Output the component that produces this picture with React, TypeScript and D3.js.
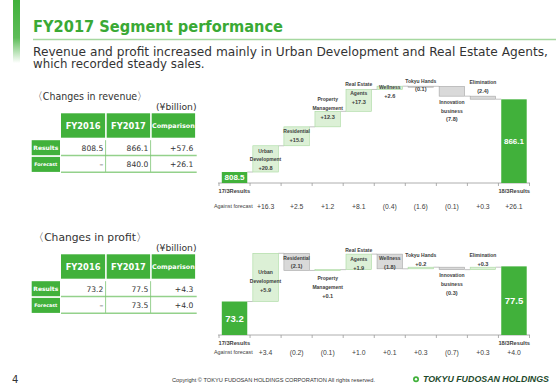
import React from "react";
import * as d3 from "d3";

// ---- data ----
const segments = [
  "Urban\nDevelopment",
  "Residential",
  "Property\nManagement",
  "Real Estate\nAgents",
  "Wellness",
  "Tokyu Hands",
  "Innovation\nbusiness",
  "Elimination",
];

const revStart = 808.5;
const revEnd = 866.1;
const revDeltas = [20.8, 15.0, 12.3, 17.3, 2.6, -0.1, -7.8, -2.4];
const revVsForecast = ["+16.3", "+2.5", "+1.2", "+8.1", "(0.4)", "(1.6)", "(0.1)", "+0.3", "+26.1"];

const profStart = 73.2;
const profEnd = 77.5;
const profDeltas = [5.9, -2.1, 0.1, 1.9, -1.8, 0.2, -0.3, 0.3];
const profVsForecast = ["+3.4", "(0.2)", "(0.1)", "+1.0", "+0.1", "+0.3", "(0.7)", "+0.3", "+4.0"];

const tableCols = ["FY2016", "FY2017", "Comparison"];
const rowLabels = ["Results", "Forecast"];
const revTable = [
  ["808.5", "866.1", "+57.6"],
  ["\u2013", "840.0", "+26.1"],
];
const profTable = [
  ["73.2", "77.5", "+4.3"],
  ["\u2013", "73.5", "+4.0"],
];

const GREEN = "#41b13b";
const TEXT = "#333333";
const SANS = "DejaVu Sans, Verdana, sans-serif";
const ARIAL = "Liberation Sans, Arial, sans-serif";

const fmtDelta = (v: number) => (v >= 0 ? `+${v.toFixed(1)}` : `(${Math.abs(v).toFixed(1)})`);

type WfProps = {
  start: number;
  end: number;
  deltas: number[];
  vsForecast: string[];
  floor: number;
  baseY: number;
  topY: number;
  labelDy: number[];
  resultsY: number;
  forecastY: number;
  endFont: number;
};

const Waterfall = ({ start, end, deltas, vsForecast, floor, baseY, topY, labelDy, resultsY, forecastY, endFont }: WfProps) => {
  const cats = d3.range(deltas.length + 2).map(String);
  const x = d3.scaleBand().domain(cats).range([219, 529.5]).padding(0);
  const bw = x.bandwidth() * 0.82;
  const off = x.bandwidth() * 0.09;

  const running: number[] = [start];
  deltas.forEach((d) => running.push(running[running.length - 1] + d));
  const maxV = d3.max(running) as number;
  const y = d3.scaleLinear().domain([floor, maxV]).range([baseY, topY]);

  const boxes = deltas.map((d, i) => {
    const a = running[i];
    const b = running[i + 1];
    const top = y(Math.max(a, b));
    const h = Math.max(Math.abs(y(a) - y(b)), 1);
    return { i: i + 1, top, h, d };
  });

  const ticks = cats.map((c) => x(c) as number).concat([x.range()[1]]);
  const lastX = x(String(cats.length - 1)) as number;

  return (
    <g>
      {/* axis */}
      <line x1={218} x2={530} y1={baseY} y2={baseY} stroke="#9a9a9a" strokeWidth={0.8} />
      {ticks.map((t, k) => (
        <line key={k} x1={t} x2={t} y1={baseY} y2={baseY + 3} stroke="#9a9a9a" strokeWidth={0.8} />
      ))}
      {/* connectors */}
      {running.map((v, i) => {
        const x1 = (x(String(i)) as number) + off + bw;
        const x2 = (x(String(i + 1)) as number) + off;
        return <line key={i} x1={x1} x2={x2} y1={y(v)} y2={y(v)} stroke="#9a9a9a" strokeWidth={0.6} />;
      })}
      {/* start & end bars */}
      <rect x={(x("0") as number) + off} y={y(start)} width={bw} height={baseY - y(start)} fill={GREEN} />
      <rect x={lastX + off} y={y(end)} width={bw} height={baseY - y(end)} fill={GREEN} />
      <text x={(x("0") as number) + x.bandwidth() / 2} y={(y(start) + baseY) / 2} textAnchor="middle" dominantBaseline="central" fill="#fff" fontFamily={ARIAL} fontWeight="bold" fontSize={endFont}>
        {start.toFixed(1)}
      </text>
      <text x={lastX + x.bandwidth() / 2} y={(y(end) + baseY) / 2} textAnchor="middle" dominantBaseline="central" fill="#fff" fontFamily={ARIAL} fontWeight="bold" fontSize={endFont}>
        {end.toFixed(1)}
      </text>
      {/* segment boxes */}
      {boxes.map((b) => (
        <rect
          key={b.i}
          x={(x(String(b.i)) as number) + off}
          y={b.top}
          width={bw}
          height={b.h}
          fill={b.d >= 0 ? "#dcf0d6" : "#d9d9d9"}
          stroke={b.d >= 0 ? "#a8d99f" : "#a6a6a6"}
          strokeWidth={0.6}
        />
      ))}
      {boxes.map((b, k) => {
        const lines = segments[k].split("\n").concat([fmtDelta(b.d)]);
        const cx = (x(String(b.i)) as number) + x.bandwidth() / 2;
        return (
          <g key={k}>
            {lines.map((ln, j) => (
              <text
                key={j}
                x={cx}
                y={b.top + labelDy[k] + j * 8.7}
                textAnchor="middle"
                dominantBaseline="central"
                fill="#404040"
                fontFamily={ARIAL}
                fontWeight="bold"
                fontSize={j === lines.length - 1 ? 5.6 : 5}
              >
                {ln}
              </text>
            ))}
          </g>
        );
      })}
      {/* category labels */}
      <text x={218.5} y={resultsY} dominantBaseline="central" fill="#404040" fontFamily={ARIAL} fontWeight="bold" fontSize={5.7}>
        17/3Results
      </text>
      <text x={530} y={resultsY} textAnchor="end" dominantBaseline="central" fill="#404040" fontFamily={ARIAL} fontWeight="bold" fontSize={5.7}>
        18/3Results
      </text>
      {/* against forecast row */}
      <text x={214} y={forecastY} dominantBaseline="central" fill="#404040" fontFamily={ARIAL} fontSize={5.4}>
        Against forecast
      </text>
      {vsForecast.map((v, k) => (
        <text key={k} x={(x(String(k + 1)) as number) + x.bandwidth() / 2} y={forecastY} textAnchor="middle" dominantBaseline="central" fill="#404040" fontFamily={ARIAL} fontSize={6.8}>
          {v}
        </text>
      ))}
    </g>
  );
};

type TableProps = { top: number; rows: string[][]; heading: string };

const ValueTable = ({ top, rows, heading }: TableProps) => {
  const colX = [61, 106.7, 151.7, 196.7];
  const headH = 24.4;
  const rowTop = [top + headH + 2.5, top + headH + 19.2];
  const rowH = 15;
  return (
    <g>
      <text x={33} y={top - 13} fill={TEXT} fontFamily={SANS} fontSize={10.6} textLength={114} lengthAdjust="spacingAndGlyphs">
        {"\u3008" + heading + "\u3009"}
      </text>
      <text x={196.5} y={top - 3} textAnchor="end" fill={TEXT} fontFamily={SANS} fontSize={9.2}>
        (¥billion)
      </text>
      {tableCols.map((c, k) => (
        <g key={c}>
          <rect x={colX[k]} y={top} width={colX[k + 1] - colX[k] - 1.6} height={headH} fill={GREEN} />
          <text
            x={(colX[k] + colX[k + 1] - 1.6) / 2}
            y={top + headH / 2}
            textAnchor="middle"
            dominantBaseline="central"
            fill="#fff"
            fontFamily={SANS}
            fontWeight="bold"
            fontSize={k === 2 ? 6.4 : 8.3}
          >
            {c}
          </text>
        </g>
      ))}
      {rowLabels.map((r, k) => (
        <g key={r}>
          <rect x={31.7} y={rowTop[k]} width={28.3} height={rowH} fill={GREEN} />
          <text x={45.8} y={rowTop[k] + rowH / 2} textAnchor="middle" dominantBaseline="central" fill="#fff" fontFamily={SANS} fontWeight="bold" fontSize={k === 0 ? 6 : 4.8}>
            {r}
          </text>
          <line x1={61} x2={196.7} y1={rowTop[k] + rowH + 0.3} y2={rowTop[k] + rowH + 0.3} stroke="#94d18b" strokeWidth={1.4} />
          {rows[k].map((v, j) => (
            <text key={j} x={colX[j + 1] - 3.4} y={rowTop[k] + rowH / 2 + 0.5} textAnchor="end" dominantBaseline="central" fill={TEXT} fontFamily={SANS} fontSize={7.6}>
              {v}
            </text>
          ))}
        </g>
      ))}
      {[105.6, 150.6].map((vx) => (
        <line key={vx} x1={vx} x2={vx} y1={rowTop[0]} y2={rowTop[1] + rowH} stroke="#7cc473" strokeWidth={0.8} />
      ))}
    </g>
  );
};

export default function App() {
  return (
    <svg width={560} height={388} viewBox="0 0 560 388" style={{ position: "absolute", left: 0, top: 0, background: "#fff" }}>
      <defs>
        <linearGradient id="sideBar" x1="0" y1="0" x2="0" y2="1">
          <stop offset="0" stopColor={GREEN} />
          <stop offset="0.6" stopColor={GREEN} stopOpacity={0.85} />
          <stop offset="1" stopColor={GREEN} stopOpacity={0} />
        </linearGradient>
      </defs>
      <rect x={0} y={0} width={560} height={388} fill="#fff" />
      <rect x={13} y={0} width={7} height={63} fill="url(#sideBar)" />
      <text x={33} y={32.3} fill="#3aa935" fontFamily={SANS} fontWeight="bold" fontSize={16.5} textLength={250} lengthAdjust="spacingAndGlyphs">
        FY2017 Segment performance
      </text>
      <line x1={33} x2={556} y1={39.5} y2={39.5} stroke="#a6d8a0" strokeWidth={1.6} />
      <text x={33} y={55.8} fill={TEXT} fontFamily={SANS} fontSize={11.8} textLength={515} lengthAdjust="spacingAndGlyphs">
        Revenue and profit increased mainly in Urban Development and Real Estate Agents,
      </text>
      <text x={33} y={68.3} fill={TEXT} fontFamily={SANS} fontSize={11.8}>
        which recorded steady sales.
      </text>

      <ValueTable top={113.3} rows={revTable} heading="Changes in revenue" />
      <ValueTable top={254.3} rows={profTable} heading="Changes in profit" />

      <Waterfall
        start={revStart}
        end={revEnd}
        deltas={revDeltas}
        vsForecast={revVsForecast}
        floor={799.8}
        baseY={183}
        topY={86.2}
        labelDy={[5, 4, -12, -5, 1, -5.5, 15.7, -14.3]}
        resultsY={191}
        forecastY={206}
        endFont={8}
      />
      <Waterfall
        start={profStart}
        end={profEnd}
        deltas={profDeltas}
        vsForecast={profVsForecast}
        floor={69.1}
        baseY={335}
        topY={253.3}
        labelDy={[19, 4.3, 8.6, -4, 4.3, -12.3, 8.3, -12]}
        resultsY={342.7}
        forecastY={352.3}
        endFont={9.5}
      />

      {/* footer */}
      <text x={12} y={383} fill={TEXT} fontFamily={SANS} fontSize={10}>
        4
      </text>
      <text x={172} y={382} fill={TEXT} fontFamily={ARIAL} fontSize={5.5} textLength={203} lengthAdjust="spacingAndGlyphs">
        Copyright © TOKYU FUDOSAN HOLDINGS CORPORATION All rights reserved.
      </text>
      <circle cx={416} cy={379.3} r={3} fill={GREEN} />
      <circle cx={416} cy={379.3} r={1.2} fill="#fff" />
      <text x={423} y={382.3} fill="#1e4a2c" fontFamily={ARIAL} fontWeight="bold" fontStyle="italic" fontSize={9} textLength={126} lengthAdjust="spacingAndGlyphs">
        TOKYU FUDOSAN HOLDINGS
      </text>
    </svg>
  );
}
